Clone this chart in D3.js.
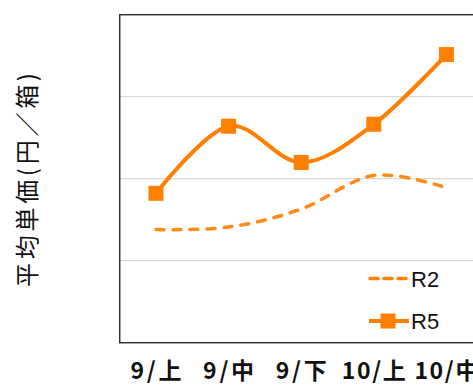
<!DOCTYPE html>
<html>
<head>
<meta charset="utf-8">
<script src="https://cdn.jsdelivr.net/npm/d3@7"></script>
<style>
  html, body { margin: 0; padding: 0; background: #fff; }
  svg { display: block; }
</style>
</head>
<body>
<svg id="chart" width="473" height="385"></svg>
<script>
// Ten-day periods (上/中/下旬)
const periods = ["9/上", "9/中", "9/下", "10/上", "10/中"];
// Average unit price per box
const r2Values = [690, 705, 815, 1020, 945];
const r5Values = [911, 1320, 1099, 1332, 1757];
const gridValues = [500, 1000, 1500];
const seriesNames = ["R2", "R5"];

const svg = d3.select("#chart");
const orange = "#ff8000";

const plot = { left: 119.7, top: 14.7, right: 482.7, bottom: 342.7 };

const x = d3.scalePoint()
  .domain(periods)
  .range([plot.left, plot.right])
  .padding(0.5);

const y = d3.scaleLinear()
  .domain([0, 2000])
  .range([plot.bottom, plot.top]);

// Horizontal gridlines
svg.append("g")
  .selectAll("line")
  .data(gridValues)
  .join("line")
  .attr("x1", plot.left)
  .attr("x2", plot.right)
  .attr("y1", d => y(d))
  .attr("y2", d => y(d))
  .attr("stroke", "#d9d9d9")
  .attr("stroke-width", 1.2);

// Plot frame
svg.append("rect")
  .attr("x", plot.left)
  .attr("y", plot.top)
  .attr("width", plot.right - plot.left)
  .attr("height", plot.bottom - plot.top)
  .attr("fill", "none")
  .attr("stroke", "#333")
  .attr("stroke-width", 1.5);

const line = d3.line()
  .x((d, i) => x(periods[i]))
  .y(d => y(d))
  .curve(d3.curveCardinal.tension(0));

// R2: dashed smooth line
svg.append("path")
  .datum(r2Values)
  .attr("d", line)
  .attr("fill", "none")
  .attr("stroke", orange)
  .attr("stroke-width", 3.5)
  .attr("stroke-dasharray", "8,9")
  .attr("stroke-linecap", "round")
  .attr("opacity", 0.92);

// R5: solid smooth line with square markers
svg.append("path")
  .datum(r5Values)
  .attr("d", line)
  .attr("fill", "none")
  .attr("stroke", orange)
  .attr("stroke-width", 4);

const ms = 15;
svg.append("g")
  .selectAll("rect")
  .data(r5Values)
  .join("rect")
  .attr("x", (d, i) => x(periods[i]) - ms / 2)
  .attr("y", d => y(d) - ms / 2)
  .attr("width", ms)
  .attr("height", ms)
  .attr("fill", orange);

// Monospaced-gothic style width: half-width chars take 1/2 em
const cellWidth = (s, em) =>
  Array.from(s).reduce((w, c) => w + (c.charCodeAt(0) < 0x2000 ? em / 2 : em), 0);

// Category labels
svg.append("g")
  .selectAll("text")
  .data(periods)
  .join("text")
  .attr("x", d => x(d))
  .attr("y", 379)
  .attr("text-anchor", "middle")
  .attr("font-family", "'Noto Sans CJK JP', sans-serif")
  .attr("font-size", 23)
  .attr("font-weight", 700)
  .attr("fill", "#111")
  .attr("textLength", d => cellWidth(d, 26) - 1)
  .attr("lengthAdjust", "spacing")
  .text(d => d);

// Y axis title
svg.append("text")
  .attr("transform", "translate(36,180) rotate(-90)")
  .attr("text-anchor", "middle")
  .attr("font-family", "'Noto Sans CJK JP', sans-serif")
  .attr("font-size", 24)
  .attr("fill", "#111")
  .attr("textLength", 214)
  .attr("lengthAdjust", "spacing")
  .text("平均単価(円／箱)");

// Legend
const legend = svg.append("g");
const legendY = [278.5, 321];
legend.append("line")
  .attr("x1", 370).attr("x2", 408)
  .attr("y1", legendY[0]).attr("y2", legendY[0])
  .attr("stroke", orange)
  .attr("stroke-width", 3.5)
  .attr("stroke-dasharray", "8,6")
  .attr("stroke-linecap", "round");
legend.append("line")
  .attr("x1", 369).attr("x2", 409)
  .attr("y1", legendY[1]).attr("y2", legendY[1])
  .attr("stroke", orange)
  .attr("stroke-width", 4);
legend.append("rect")
  .attr("x", 388 - 7.5).attr("y", legendY[1] - 7.5)
  .attr("width", 15).attr("height", 15)
  .attr("fill", orange);
legend.selectAll("text")
  .data(seriesNames)
  .join("text")
  .attr("x", 411)
  .attr("y", (d, i) => legendY[i] + 8)
  .attr("font-family", "'Liberation Sans', Arial, sans-serif")
  .attr("font-size", 22)
  .attr("fill", "#111")
  .text(d => d);
</script>
</body>
</html>
